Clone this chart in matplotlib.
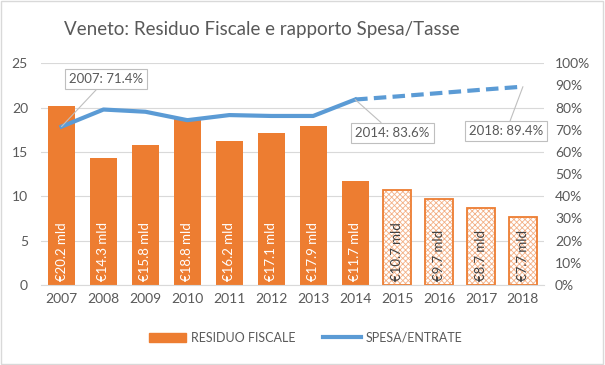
import matplotlib.pyplot as plt
import numpy as np
from matplotlib.lines import Line2D
from matplotlib.patches import Patch

plt.rcParams["font.family"] = ["Lato", "DejaVu Sans"]
plt.rcParams["hatch.linewidth"] = 0.6

years = ["2007", "2008", "2009", "2010", "2011", "2012",
         "2013", "2014", "2015", "2016", "2017", "2018"]
residuo = [20.2, 14.3, 15.8, 18.8, 16.2, 17.1, 17.9, 11.7, 10.7, 9.7, 8.7, 7.7]
spesa = [71.4, 79.1, 78.1, 74.3, 76.6, 76.2, 76.2, 83.6, 85.0, 86.5, 88.0, 89.4]
n_actual = 8  # 2007-2014 actual, 2015-2018 forecast

orange = "#ED7D31"
light_orange = "#F3B086"
blue = "#5B9BD5"
txt = "#595959"
grid_c = "#D9D9D9"

fig = plt.figure(figsize=(6.05, 3.65), dpi=100)
ax = fig.add_axes([0.067, 0.219, 0.832, 0.608])
ax2 = ax.twinx()

x = np.arange(len(years))
for i, v in enumerate(residuo):
    if i < n_actual:
        ax.bar(x[i], v, width=0.65, color=orange, zorder=2)
        tc = "white"
    else:
        ax.bar(x[i], v, width=0.65, facecolor="white", edgecolor=light_orange,
               hatch="xxxxxx", linewidth=0, zorder=2)
        ax.bar(x[i], v, width=0.65, fill=False, edgecolor=orange,
               linewidth=1.3, zorder=2)
        tc = "#404040"
    ax.text(x[i], 0.45, f"€{v} mld", rotation=90, ha="center", va="bottom",
            fontsize=9.5, color=tc, zorder=3)

ax.set_ylim(0, 25)
ax.set_yticks(range(0, 26, 5))
ax.set_xlim(-0.5, len(years) - 0.5)
ax.set_xticks(x)
ax.set_xticklabels(years)
ax.grid(axis="y", color=grid_c, linewidth=0.8, zorder=0)
ax.set_axisbelow(True)

ax2.plot(x[:n_actual], spesa[:n_actual], color=blue, linewidth=3, zorder=4)
ax2.plot(x[n_actual - 1:], spesa[n_actual - 1:], color=blue, linewidth=3,
         linestyle=(0, (3, 1.5)), zorder=4)
ax2.set_ylim(0, 100)
ax2.set_yticks(range(0, 101, 10))
ax2.set_yticklabels([f"{t}%" for t in range(0, 101, 10)])

for a in (ax, ax2):
    for s in a.spines.values():
        s.set_visible(False)
    a.tick_params(length=0, colors=txt, labelsize=10)
ax.spines["bottom"].set_visible(True)
ax.spines["bottom"].set_color(grid_c)
ax.tick_params(axis="y", pad=9)
ax2.tick_params(axis="y", pad=8)
ax.tick_params(axis="x", pad=6)

box = dict(boxstyle="square,pad=0.3", fc="white", ec="#BFBFBF", lw=0.8)
arrow = dict(arrowstyle="-", color="#BFBFBF", lw=0.8, shrinkA=0, shrinkB=0)
for idx, off in [(0, (32, 34)), (7, (27, -24)), (11, (-12, -32))]:
    ax2.annotate(f"{years[idx]}: {spesa[idx]}%", xy=(x[idx], spesa[idx]),
                 xytext=off, textcoords="offset points", ha="center",
                 va="center", fontsize=9.5, color=txt, bbox=box,
                 arrowprops=arrow, zorder=5)

fig.text(0.432, 0.918, "Veneto: Residuo Fiscale e rapporto Spesa/Tasse",
         ha="center", va="center", fontsize=13.5, color=txt)

handles = [Patch(color=orange), Line2D([], [], color=blue, lw=3)]
fig.legend(handles, ["RESIDUO FISCALE", "SPESA/ENTRATE"], loc="center",
           bbox_to_anchor=(0.505, 0.075), ncol=2, frameon=False, fontsize=9,
           labelcolor=txt, handlelength=3.0, handleheight=0.7,
           handletextpad=0.4, columnspacing=2.2)

fig.patches.append(plt.Rectangle((0.002, 0.003), 0.995, 0.994,
                                 transform=fig.transFigure, fill=False,
                                 ec="#D9D9D9", lw=1))
fig.savefig("out.png", dpi=100)
